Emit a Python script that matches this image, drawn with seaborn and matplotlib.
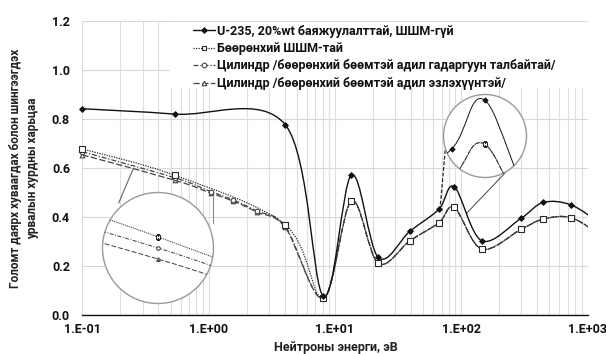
import numpy as np
import pandas as pd
import matplotlib
matplotlib.use("Agg")
import matplotlib.pyplot as plt
import seaborn as sns
from matplotlib.path import Path
from matplotlib.patches import PathPatch, Circle, Rectangle
from matplotlib.lines import Line2D

# ---------------- data ----------------
energy_main = [0.1, 0.544, 4.04, 8.1, 13.5, 22.0, 39.3, 66.5, 88.1, 145.0, 297.0, 446.0, 740.0, 1250.0]
rate_main = [0.841, 0.819, 0.776, 0.077, 0.571, 0.235, 0.342, 0.431, 0.523, 0.303, 0.394, 0.459, 0.449, 0.375]

energy_sph = [0.1, 0.544, 4.04, 8.1, 13.5, 22.0, 39.3, 66.5, 88.1, 145.0, 297.0, 446.0, 740.0, 1250.0]
rate_sph = [0.677, 0.569, 0.368, 0.068, 0.465, 0.211, 0.303, 0.376, 0.439, 0.269, 0.349, 0.391, 0.397, 0.328]

energy_cyl = [0.1, 0.544, 1.04, 1.57, 2.4, 4.04, 8.1, 13.5, 22.0, 39.3, 66.5, 88.1, 145.0, 297.0, 446.0, 740.0, 1250.0]
rate_cyl_area = [0.666, 0.559, 0.503, 0.469, 0.424, 0.362, 0.068, 0.465, 0.211, 0.303, 0.376, 0.439, 0.269, 0.349, 0.391, 0.397, 0.328]
rate_cyl_vol = [0.653, 0.549, 0.497, 0.464, 0.420, 0.357, 0.068, 0.465, 0.211, 0.303, 0.376, 0.439, 0.269, 0.349, 0.391, 0.397, 0.328]

labels = [
    "U-235, 20%wt баяжуулалттай, ШШМ-гүй",
    "Бөөрөнхий ШШМ-тай",
    "Цилиндр /бөөрөнхий бөөмтэй адил гадаргуун талбайтай/",
    "Цилиндр /бөөрөнхий бөөмтэй адил эзлэхүүнтэй/",
]
x_ticks = [0.1, 1, 10, 100, 1000]
x_ticklabels = ["1.E-01", "1.E+00", "1.E+01", "1.E+02", "1.E+03"]
y_ticks = [0.0, 0.2, 0.4, 0.6, 0.8, 1.0, 1.2]

# ---------------- styling ----------------
sns.set_theme(style="white")
plt.rcParams["font.family"] = ["Roboto", "DejaVu Sans"]
plt.rcParams["font.weight"] = "bold"

W, H = 606, 354
fig = plt.figure(figsize=(W / 100, H / 100), dpi=100)
ax = fig.add_axes([82.4 / W, (H - 315) / H, (587.5 - 82.4) / W, (315 - 20.7) / H])
ax.set_xscale("log")
ax.set_xlim(0.1, 1000)
ax.set_ylim(0, 1.2)

series = [
    dict(x=energy_main, y=rate_main, color="#111111", ls="-", lw=1.0, marker="D", s=8, face="#111111"),
    dict(x=energy_sph, y=rate_sph, color="#2a2a2a", ls=(0, (1, 1)), lw=0.9, marker="s", s=13, face="white"),
    dict(x=energy_cyl, y=rate_cyl_area, color="#444444", ls=(0, (4, 1.5, 1, 1.5)), lw=0.9, marker="o", s=11, face="white"),
    dict(x=energy_cyl, y=rate_cyl_vol, color="#444444", ls=(0, (5, 2)), lw=0.9, marker="^", s=11, face="white"),
]


def smooth_path(xs, ys):
    """Excel-like smoothed line: cubic Bezier segments through the points (log-x space)."""
    lx = np.log10(np.asarray(xs, float))
    y = np.asarray(ys, float)
    n = len(lx)
    verts = [(10 ** lx[0], y[0])]
    codes = [Path.MOVETO]
    for i in range(n - 1):
        a = max(i - 1, 0)
        b = min(i + 2, n - 1)
        c1x = lx[i] + (lx[i + 1] - lx[a]) / 6
        c1y = y[i] + (y[i + 1] - y[a]) / 6
        c2x = lx[i + 1] - (lx[b] - lx[i]) / 6
        c2y = y[i + 1] - (y[b] - y[i]) / 6
        verts += [(10 ** c1x, c1y), (10 ** c2x, c2y), (10 ** lx[i + 1], y[i + 1])]
        codes += [Path.CURVE4] * 3
    return Path(verts, codes)


def draw_series(target, clip=None, lw_scale=1.0, ms_scale=1.0):
    for sp in reversed(series):
        patch = PathPatch(smooth_path(sp["x"], sp["y"]), facecolor="none", edgecolor=sp["color"],
                          lw=sp["lw"] * lw_scale, linestyle=sp["ls"], zorder=3)
        target.add_patch(patch)
        if clip is not None:
            patch.set_clip_path(clip)
        df = pd.DataFrame({"energy": sp["x"], "rate": sp["y"]})
        df = df[df["energy"] <= 1000]
        sc = sns.scatterplot(data=df, x="energy", y="rate", ax=target, marker=sp["marker"],
                             s=sp["s"] * ms_scale, facecolor=sp["face"], edgecolor=sp["color"],
                             linewidth=0.8, zorder=4, legend=False)
        coll = sc.collections[-1]
        if clip is not None:
            coll.set_clip_path(clip)
        else:
            coll.set_clip_on(False)


draw_series(ax)

# grid & axes
ax.grid(which="major", axis="y", color="#d9d9d9", lw=0.8, zorder=0)
ax.grid(which="both", axis="x", color="#dedede", lw=0.8, zorder=0)
ax.set_axisbelow(True)
for side in ["left", "right", "top"]:
    ax.spines[side].set_visible(False)
ax.spines["bottom"].set_color("#111111")
ax.spines["bottom"].set_linewidth(1.0)
ax.set_xticks(x_ticks)
ax.set_xticklabels(x_ticklabels)
ax.xaxis.set_minor_locator(matplotlib.ticker.LogLocator(base=10, subs=np.arange(2, 10)))
ax.xaxis.set_minor_formatter(matplotlib.ticker.NullFormatter())
ax.tick_params(axis="x", which="major", direction="in", length=4, width=1, color="#111111",
               labelsize=9, pad=6)
ax.tick_params(axis="x", which="minor", length=0)
ax.set_yticks(y_ticks)
ax.set_yticklabels([f"{v:.1f}" for v in y_ticks])
ax.tick_params(axis="y", length=0, labelsize=9, pad=9)
for t in ax.get_xticklabels() + ax.get_yticklabels():
    t.set_fontweight("bold")
    t.set_color("#111111")
ax.set_xlabel("")
ax.set_ylabel("")

fig.text(336 / W, 1 - 347 / H, "Нейтроны энерги, эВ", ha="center", va="center", fontsize=9,
         fontweight="bold", color="#222222")
fig.text(24 / W, 1 - 168 / H, "Голомт даярх хуваагдах болон шингээгдэх\nурвалын хурдны харьцаа",
         ha="center", va="center", rotation=90, fontsize=8.5, fontweight="bold", color="#222222",
         linespacing=1.4)

# legend background and legend
ax.add_patch(Rectangle((0.173, 0.772), 0.827, 0.222, transform=ax.transAxes, facecolor="white",
                       edgecolor="none", zorder=1.5))
handles = [Line2D([], [], color=sp["color"], ls=sp["ls"], lw=sp["lw"], marker=sp["marker"],
                  markersize=3.3 if sp["marker"] != "D" else 2.8, markerfacecolor=sp["face"],
                  markeredgecolor=sp["color"], markeredgewidth=0.8) for sp in series]
leg = fig.legend(handles, labels, loc="upper left", bbox_to_anchor=(193 / W, 1 - 24.5 / H),
                 frameon=False, fontsize=9, handlelength=1.75, handletextpad=0.2, labelspacing=0.36,
                 borderpad=0, borderaxespad=0)
for t in leg.get_texts():
    t.set_fontweight("bold")
    t.set_color("#111111")

# ---------------- magnifier insets ----------------
dec_px = ax.transData.transform((1.0, 0))[0] - ax.transData.transform((0.1, 0))[0]
unit_px = ax.transData.transform((1, 1.0))[1] - ax.transData.transform((1, 0.0))[1]


def magnifier(cx, cy, r, xc, yc, mag, lw_scale, ms_scale):
    axi = fig.add_axes([(cx - r) / W, (H - cy - r) / H, 2 * r / W, 2 * r / H])
    axi.set_xscale("log")
    hx = r / (mag * dec_px)
    hy = r / (mag * unit_px)
    axi.set_xlim(10 ** (np.log10(xc) - hx), 10 ** (np.log10(xc) + hx))
    axi.set_ylim(yc - hy, yc + hy)
    axi.axis("off")
    circ = Circle((0.5, 0.5), 0.5, transform=axi.transAxes, facecolor="white", edgecolor="#9a9a9a",
                  lw=1.0, zorder=1)
    circ.set_clip_on(False)
    axi.add_patch(circ)
    draw_series(axi, clip=circ, lw_scale=lw_scale, ms_scale=ms_scale)
    return axi


magnifier(158, 248, 55.5, 0.544, 0.559, 4.5, 0.8, 0.6)
magnifier(485, 136, 41.5, 88.1, 0.455, 2.14, 0.7, 0.8)

# connector lines of the magnifiers (data coordinates)
ax.plot([0.194, 0.254], [0.457, 0.599], color="#666666", lw=0.8, clip_on=False, zorder=2)
ax.plot([1.09, 1.09], [0.376, 0.481], color="#888888", lw=0.8, clip_on=False, zorder=2)
ax.plot([67.8, 75.7], [0.428, 0.707], color="#222222", lw=0.9, ls=(0, (3, 1.5)), clip_on=False, zorder=2)
ax.plot([234, 110.4], [0.591, 0.415], color="#444444", lw=0.7, clip_on=False, zorder=2)

fig.savefig("out.png", dpi=100)
